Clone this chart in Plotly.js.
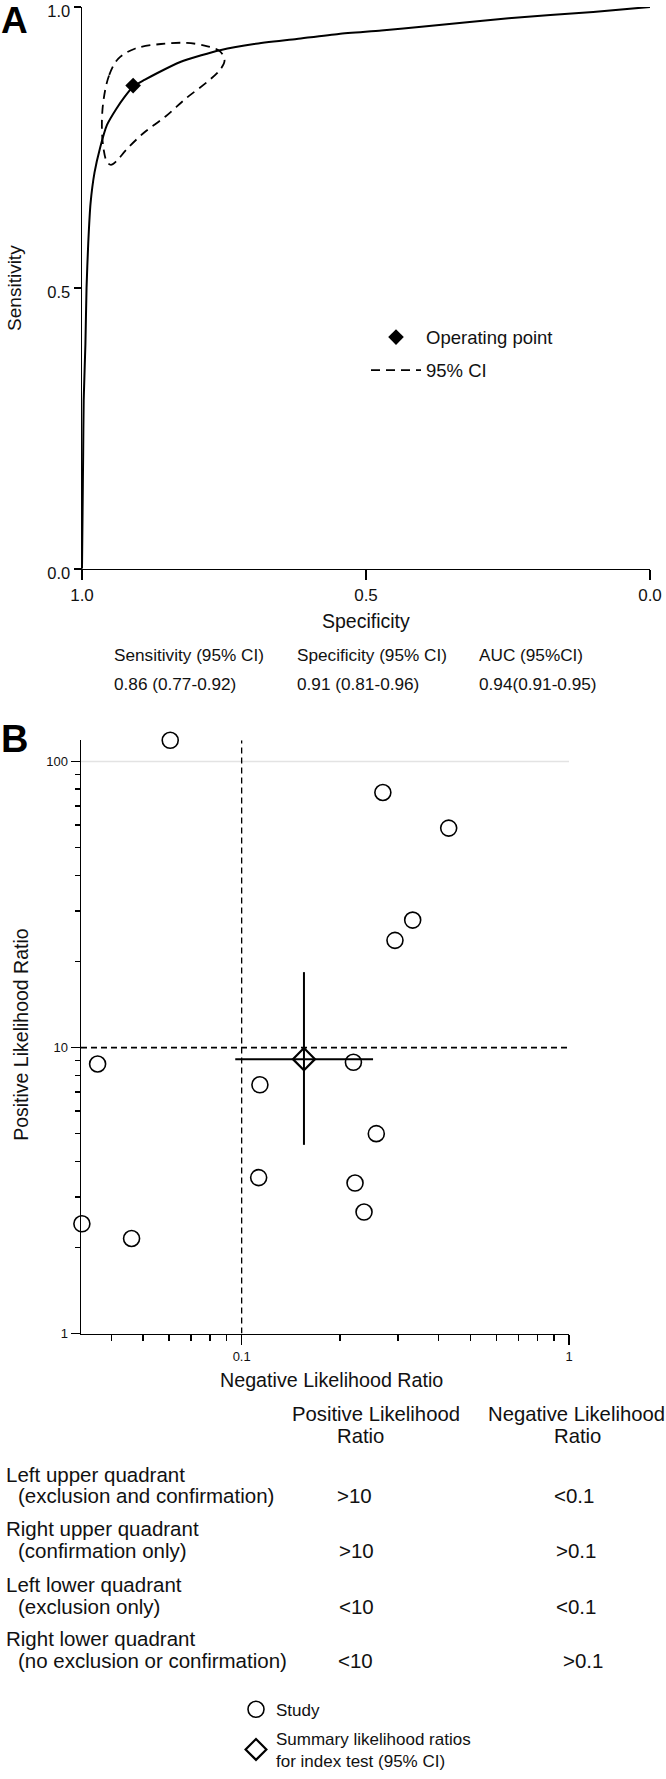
<!DOCTYPE html>
<html><head><meta charset="utf-8">
<script src="https://cdn.plot.ly/plotly-3.0.1.min.js"></script>
<style>
html,body{margin:0;padding:0;background:#fff;width:666px;height:1779px;overflow:hidden}
#chart{display:block;width:666px;height:1779px;overflow:hidden}
</style>
</head><body><div id="chart"></div>
<script>
// ---------- Panel A: SROC ----------
const srocSpec = [1.000,0.999,0.998,0.997,0.994,0.992,0.989,0.985,0.978,0.968,0.956,0.940,0.925,0.910,0.890,0.868,0.827,0.790,0.757,0.697,0.622,0.548,0.473,0.398,0.249,0.100,0.000];
const srocSens = [0.000,0.100,0.200,0.300,0.400,0.500,0.580,0.650,0.705,0.750,0.790,0.818,0.840,0.858,0.870,0.882,0.902,0.914,0.923,0.934,0.943,0.952,0.958,0.965,0.980,0.991,1.000];
const opSpec = [0.91];
const opSens = [0.86];
const ciSpec = [0.962,0.952,0.936,0.906,0.861,0.816,0.779,0.757,0.749,0.757,0.779,0.816,0.853,0.891,0.921,0.939,0.949,0.956,0.962,0.965,0.962];
const ciSens = [0.835,0.879,0.908,0.926,0.934,0.936,0.930,0.921,0.905,0.888,0.867,0.838,0.805,0.776,0.747,0.726,0.719,0.724,0.747,0.788,0.835];
const statHeaders = ['Sensitivity (95% CI)','Specificity (95% CI)','AUC (95%CI)'];
const statValues = ['0.86 (0.77-0.92)','0.91 (0.81-0.96)','0.94(0.91-0.95)'];

// ---------- Panel B: likelihood ratio scatter ----------
const studyNLR = [0.0605,0.270,0.429,0.333,0.294,0.0363,0.1137,0.2195,0.2578,0.1127,0.222,0.2365,0.0325,0.0461];
const studyPLR = [118.6,77.9,58.5,27.9,23.7,8.76,7.41,8.88,5.00,3.51,3.36,2.66,2.42,2.15];
const sumNLR = [0.155];
const sumPLR = [9.11];
const sumNLRci = [0.0956,0.252];
const sumPLRci = [4.57,18.35];
const nlrThreshold = 0.1;
const plrThreshold = 10;
const gridPLR = 100;
const xRangeB = [0.0323, 1];
const yRangeB = [1, 118.6];
const quadNames = ['Left upper quadrant','Right upper quadrant','Left lower quadrant','Right lower quadrant'];
const quadNotes = ['(exclusion and confirmation)','(confirmation only)','(exclusion only)','(no exclusion or confirmation)'];
const quadPLR = ['>10','>10','<10','<10'];
const quadNLR = ['<0.1','>0.1','<0.1','>0.1'];

const W = 666, H = 1779;
const px = x => x / W;
const py = y => 1 - y / H;
const FONT = 'Liberation Sans, Arial, Helvetica, sans-serif';
const BLACK = '#000';

const traces = [
  {x: ciSpec, y: ciSens, xaxis:'x', yaxis:'y', mode:'lines', name:'95% CI',
   line:{color:BLACK, width:1.8, dash:'9px,6px', shape:'spline', smoothing:1},
   legend:'legend', legendrank:2, legendgroup:'ci', hoverinfo:'skip'},
  {x: srocSpec, y: srocSens, xaxis:'x', yaxis:'y', mode:'lines', showlegend:false,
   line:{color:BLACK, width:2, shape:'spline', smoothing:0.6}, hoverinfo:'skip'},
  {x: opSpec, y: opSens, xaxis:'x', yaxis:'y', mode:'markers', name:'Operating point',
   marker:{symbol:'diamond', size:12, color:BLACK}, legend:'legend', legendrank:1, legendgroup:'op', cliponaxis:false},

  {x: xRangeB, y: [gridPLR, gridPLR], xaxis:'x2', yaxis:'y2', mode:'lines', showlegend:false,
   line:{color:'#e3e3e3', width:1.5}, hoverinfo:'skip'},
  {x: [nlrThreshold, nlrThreshold], y: yRangeB, xaxis:'x2', yaxis:'y2', mode:'lines', showlegend:false,
   line:{color:BLACK, width:1.3, dash:'6px,4px'}, hoverinfo:'skip'},
  {x: xRangeB, y: [plrThreshold, plrThreshold], xaxis:'x2', yaxis:'y2', mode:'lines', showlegend:false,
   line:{color:BLACK, width:1.8, dash:'6px,4px'}, hoverinfo:'skip'},
  {x: sumNLRci, y: [sumPLR[0], sumPLR[0]], xaxis:'x2', yaxis:'y2', mode:'lines', showlegend:false,
   line:{color:BLACK, width:2}, hoverinfo:'skip'},
  {x: [sumNLR[0], sumNLR[0]], y: sumPLRci, xaxis:'x2', yaxis:'y2', mode:'lines', showlegend:false,
   line:{color:BLACK, width:2}, hoverinfo:'skip'},
  {x: studyNLR, y: studyPLR, xaxis:'x2', yaxis:'y2', mode:'markers', name:'Study',
   marker:{symbol:'circle-open', size:16, color:BLACK, line:{width:1.6}}, legend:'legend2', legendrank:1, legendgroup:'st', cliponaxis:false},
  {x: sumNLR, y: sumPLR, xaxis:'x2', yaxis:'y2', mode:'markers', name:'Summary likelihood ratios<br>for index test (95% CI)',
   marker:{symbol:'diamond-open', size:17, color:BLACK, line:{width:2.2}}, legend:'legend2', legendrank:2, legendgroup:'su', cliponaxis:false}
];

const ann = [];
function txt(text, x, y, size, opts) {
  ann.push(Object.assign({text:text, x:px(x), y:py(y), xref:'paper', yref:'paper', showarrow:false,
    xanchor:'left', yanchor:'middle', font:{family:FONT, size:size, color:'#111'}}, opts || {}));
}
// Panel labels
txt('<b>A</b>', -1, 21, 37, {font:{family:FONT, size:37, color:BLACK}});
txt('<b>B</b>', -1, 747, 38, {font:{family:FONT, size:38, color:BLACK}});
// Panel A titles
txt('Sensitivity', 15, 291, 19, {xanchor:'center', textangle:-90});
txt('Specificity', 366, 628, 19.5, {xanchor:'center'});
const statX = [112, 295, 477];
statHeaders.forEach((t,i) => txt(t, statX[i], 662, 17.2));
statValues.forEach((t,i) => txt(t, statX[i], 691, 17.2));
// Panel B titles
txt('Positive Likelihood Ratio', 21, 1046, 19.5, {xanchor:'center', textangle:-90});
txt('Negative Likelihood Ratio', 331.5, 1395, 19.7, {xanchor:'center'});
// Table
txt('Positive Likelihood', 375.5, 1429, 20.3, {xanchor:'center'});
txt('Ratio', 360, 1452, 20.3, {xanchor:'center'});
txt('Negative Likelihood', 576, 1429, 20.3, {xanchor:'center'});
txt('Ratio', 577.5, 1452, 20.3, {xanchor:'center'});
const rowY = [1490, 1545, 1601.5, 1656.5];
const plrX = [354.5, 356, 356.5, 355];
const nlrX = [574, 576, 576, 582.6];
quadNames.forEach((t,i) => {
  txt(t, 4, rowY[i], 20.5);
  txt(quadNotes[i], 16, rowY[i] + 22, 20.5);
  txt(quadPLR[i], plrX[i], rowY[i] + 22, 20.5, {xanchor:'center'});
  txt(quadNLR[i], nlrX[i], rowY[i] + 22, 20.5, {xanchor:'center'});
});

const axCommon = {showgrid:false, zeroline:false, showline:true, linecolor:BLACK, linewidth:1.5,
  ticks:'outside', tickcolor:BLACK, tickwidth:1.5, fixedrange:true, ticklabeloverflow:'allow'};

const layout = {
  width:W, height:H, autosize:false,
  margin:{l:0, r:0, t:0, b:0},
  paper_bgcolor:'#fff', plot_bgcolor:'#fff',
  font:{family:FONT, color:'#111'},
  showlegend:true,
  xaxis: Object.assign({}, axCommon, {domain:[px(82), px(650)], range:[1,0],
    tickvals:[1,0.5,0], ticktext:['1.0','0.5','0.0'], ticklen:10,
    tickfont:{family:FONT, size:17, color:'#111'}, anchor:'y'}),
  yaxis: Object.assign({}, axCommon, {domain:[py(575), py(7)], range:[0,1],
    tickvals:[0,0.5,1], ticktext:['0.0','0.5','1.0'], ticklen:7, ticklabelshift:4,
    tickfont:{family:FONT, size:16.5, color:'#111'}, anchor:'x'}),
  xaxis2: Object.assign({}, axCommon, {domain:[px(81), px(569)], type:'log',
    range:[Math.log10(xRangeB[0]), Math.log10(xRangeB[1])],
    tickvals:[0.1,1], ticktext:['0.1','1'], ticklen:10,
    minor:{tickvals:[0.04,0.05,0.06,0.07,0.08,0.09,0.2,0.3,0.4,0.5,0.6,0.7,0.8,0.9], ticks:'outside', ticklen:6, tickcolor:BLACK, tickwidth:1.5, showgrid:false},
    tickfont:{family:FONT, size:13, color:'#111'}, anchor:'y2'}),
  yaxis2: Object.assign({}, axCommon, {domain:[py(1348), py(748.3)], type:'log',
    range:[Math.log10(yRangeB[0]), Math.log10(yRangeB[1])],
    tickvals:[1,10,100], ticktext:['1','10','100'], ticklen:9,
    minor:{tickvals:[2,3,4,5,6,7,8,9,20,30,40,50,60,70,80,90], ticks:'outside', ticklen:5, tickcolor:BLACK, tickwidth:1.5, showgrid:false},
    tickfont:{family:FONT, size:13, color:'#111'}, anchor:'x2'}),
  legend:{x:px(366), xanchor:'left', y:py(322), yanchor:'top', font:{family:FONT, size:18.5, color:'#111'},
    itemwidth:50, bgcolor:'rgba(0,0,0,0)', tracegroupgap:6},
  legend2:{x:px(236), xanchor:'left', y:py(1710), yanchor:'top', font:{family:FONT, size:17, color:'#111'},
    itemwidth:30, bgcolor:'rgba(0,0,0,0)', tracegroupgap:4},
  annotations: ann
};

Plotly.newPlot('chart', traces, layout, {staticPlot:true, displayModeBar:false});
</script>
</body></html>
